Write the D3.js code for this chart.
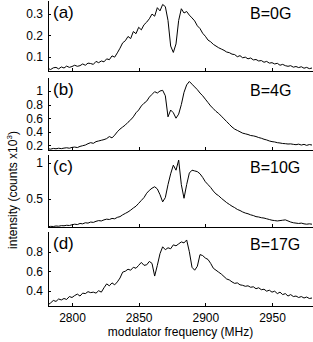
<!DOCTYPE html>
<html>
<head>
<meta charset="utf-8">
<script src="https://cdn.jsdelivr.net/npm/d3@7"></script>
<style>
  body { margin: 0; background: #fff; }
  svg { display: block; font-family: "Liberation Sans", Arial, Helvetica, sans-serif; }
  .axis path, .axis line { stroke: #000; shape-rendering: crispEdges; }
  .axis text { font-size: 12px; fill: #000; font-family: "Liberation Sans", Arial, sans-serif; }
  .line { fill: none; stroke: #000; stroke-width: 1; }
</style>
</head>
<body>
<svg width="313" height="342"></svg>
<script>
// modulator frequency grid (MHz)
var freqs = [2782, 2784, 2786, 2788, 2790, 2792, 2794, 2796, 2798, 2800,
    2802, 2804, 2806, 2808, 2810, 2812, 2814, 2816, 2818, 2820,
    2822, 2824, 2826, 2828, 2830, 2832, 2834, 2836, 2838, 2840,
    2842, 2844, 2846, 2848, 2850, 2852, 2854, 2856, 2858, 2860,
    2862, 2864, 2866, 2868, 2870, 2872, 2874, 2876, 2878, 2880,
    2882, 2884, 2886, 2888, 2890, 2892, 2894, 2896, 2898, 2900,
    2902, 2904, 2906, 2908, 2910, 2912, 2914, 2916, 2918, 2920,
    2922, 2924, 2926, 2928, 2930, 2932, 2934, 2936, 2938, 2940,
    2942, 2944, 2946, 2948, 2950, 2952, 2954, 2956, 2958, 2960,
    2962, 2964, 2966, 2968, 2970, 2972, 2974, 2976, 2978, 2980];

// intensity, counts x10^3
var intensityB0 = [0.045, 0.040, 0.048, 0.050, 0.043, 0.052, 0.047, 0.056, 0.050, 0.054,
    0.060, 0.055, 0.058, 0.066, 0.060, 0.070, 0.068, 0.064, 0.078, 0.072,
    0.080, 0.076, 0.090, 0.086, 0.104, 0.098, 0.118, 0.140, 0.165, 0.175,
    0.195, 0.185, 0.218, 0.208, 0.238, 0.226, 0.250, 0.262, 0.278, 0.300,
    0.290, 0.330, 0.315, 0.345, 0.335, 0.270, 0.150, 0.120, 0.160, 0.270,
    0.325, 0.305, 0.312, 0.295, 0.282, 0.268, 0.245, 0.232, 0.210, 0.196,
    0.178, 0.170, 0.158, 0.150, 0.142, 0.136, 0.130, 0.122, 0.119, 0.112,
    0.110, 0.100, 0.105, 0.095, 0.098, 0.090, 0.094, 0.085, 0.087, 0.080,
    0.082, 0.074, 0.078, 0.070, 0.072, 0.066, 0.069, 0.060, 0.064, 0.058,
    0.055, 0.058, 0.051, 0.054, 0.049, 0.053, 0.046, 0.050, 0.044, 0.047];

var intensityB4 = [0.150, 0.145, 0.155, 0.150, 0.158, 0.152, 0.160, 0.165, 0.158, 0.170,
    0.175, 0.168, 0.185, 0.195, 0.205, 0.225, 0.240, 0.230, 0.255, 0.265,
    0.275, 0.285, 0.300, 0.330, 0.310, 0.350, 0.400, 0.440, 0.470, 0.500,
    0.540, 0.575, 0.620, 0.680, 0.720, 0.780, 0.820, 0.850, 0.910, 0.950,
    0.990, 0.970, 1.000, 1.010, 0.930, 0.620, 0.720, 0.680, 0.600, 0.660,
    0.800, 0.980, 1.090, 1.140, 1.100, 1.060, 1.020, 0.970, 0.930, 0.880,
    0.830, 0.780, 0.740, 0.700, 0.670, 0.630, 0.590, 0.550, 0.510, 0.470,
    0.440, 0.420, 0.400, 0.380, 0.370, 0.360, 0.345, 0.340, 0.330, 0.315,
    0.305, 0.290, 0.280, 0.265, 0.255, 0.250, 0.240, 0.235, 0.228, 0.225,
    0.220, 0.222, 0.215, 0.210, 0.218, 0.205, 0.215, 0.200, 0.212, 0.205];

var intensityB10 = [0.115, 0.120, 0.118, 0.125, 0.122, 0.130, 0.128, 0.135, 0.132, 0.142,
    0.150, 0.145, 0.160, 0.155, 0.170, 0.165, 0.180, 0.175, 0.190, 0.200,
    0.195, 0.210, 0.220, 0.215, 0.230, 0.225, 0.245, 0.255, 0.280, 0.300,
    0.320, 0.345, 0.375, 0.400, 0.440, 0.480, 0.520, 0.580, 0.620, 0.650,
    0.670, 0.640, 0.560, 0.460, 0.520, 0.700, 0.850, 0.970, 0.900, 1.040,
    0.700, 0.510, 0.700, 0.860, 0.900, 0.890, 0.880, 0.850, 0.800, 0.740,
    0.700, 0.660, 0.610, 0.570, 0.545, 0.510, 0.480, 0.450, 0.425, 0.400,
    0.380, 0.355, 0.340, 0.320, 0.305, 0.295, 0.280, 0.270, 0.255, 0.250,
    0.240, 0.235, 0.225, 0.215, 0.205, 0.200, 0.195, 0.200, 0.205, 0.210,
    0.195, 0.180, 0.170, 0.165, 0.160, 0.165, 0.155, 0.150, 0.155, 0.150];

var intensityB17 = [0.255, 0.275, 0.300, 0.290, 0.315, 0.305, 0.320, 0.310, 0.340, 0.330,
    0.350, 0.365, 0.345, 0.375, 0.370, 0.390, 0.380, 0.385, 0.375, 0.400,
    0.385, 0.430, 0.470, 0.450, 0.480, 0.460, 0.490, 0.530, 0.590, 0.600,
    0.620, 0.610, 0.640, 0.630, 0.660, 0.690, 0.660, 0.665, 0.700, 0.680,
    0.550, 0.660, 0.780, 0.850, 0.820, 0.840, 0.830, 0.870, 0.860, 0.880,
    0.900, 0.890, 0.920, 0.800, 0.640, 0.610, 0.650, 0.770, 0.760, 0.735,
    0.720, 0.680, 0.630, 0.610, 0.590, 0.570, 0.545, 0.520, 0.510, 0.490,
    0.475, 0.480, 0.460, 0.455, 0.445, 0.450, 0.435, 0.440, 0.420, 0.430,
    0.410, 0.415, 0.395, 0.405, 0.385, 0.395, 0.370, 0.385, 0.360, 0.370,
    0.345, 0.360, 0.340, 0.345, 0.330, 0.340, 0.325, 0.335, 0.320, 0.325];

var panelTags = ["(a)", "(b)", "(c)", "(d)"];
var fieldLabels = ["B=0G", "B=4G", "B=10G", "B=17G"];
var yTickValues = [[0.1, 0.2, 0.3], [0.2, 0.4, 0.6, 0.8, 1], [0.5, 1], [0.4, 0.6, 0.8]];
var xTickValues = [2800, 2850, 2900, 2950];

(function() {

    "use strict";

    var series = [intensityB0, intensityB4, intensityB10, intensityB17];

    // panel layout (pixels) and y ranges shown
    var left = 48, right = 313;
    var tops = [0, 77, 154, 231];
    var bottoms = [71, 150, 227, 306];
    var yDomains = [[0.033, 0.366], [0.132, 1.206], [0.111, 1.125], [0.243, 1.012]];

    var svg = d3.select("svg");

    var x = d3.scaleLinear()
        .domain([2782, 2980.75])
        .range([left, right]);

    series.forEach(function(values, i) {

        var y = d3.scaleLinear()
            .domain(yDomains[i])
            .range([bottoms[i], tops[i]]);

        var g = svg.append("g").attr("class", "panel");

        var xAxis = d3.axisBottom(x)
            .tickValues(xTickValues)
            .tickSizeInner(-3)
            .tickSizeOuter(0)
            .tickPadding(7)
            .tickFormat(d3.format("d"));
        if (i < series.length - 1) {
            xAxis.tickFormat("");
        }

        g.append("g")
            .attr("class", "axis axis--x")
            .attr("transform", "translate(0," + bottoms[i] + ")")
            .call(xAxis);

        g.append("g")
            .attr("class", "axis axis--y")
            .attr("transform", "translate(" + left + ",0)")
            .call(d3.axisLeft(y)
                .tickValues(yTickValues[i])
                .tickSizeInner(-3)
                .tickSizeOuter(0)
                .tickPadding(5)
                .tickFormat(function(d) { return String(d); }));

        g.append("path")
            .datum(values)
            .attr("class", "line")
            .attr("d", d3.line()
                .x(function(d, j) { return x(freqs[j]); })
                .y(function(d) { return y(d); }));

        g.append("text")
            .attr("x", 53)
            .attr("y", tops[i] + 18)
            .style("font-size", "17px")
            .text(panelTags[i]);

        g.append("text")
            .attr("x", 250)
            .attr("y", tops[i] + 19)
            .style("font-size", "16px")
            .text(fieldLabels[i]);
    });

    svg.append("text")
        .attr("x", (left + right) / 2)
        .attr("y", 336)
        .attr("text-anchor", "middle")
        .style("font-size", "12px")
        .text("modulator frequency (MHz)");

    var ylab = svg.append("text")
        .attr("transform", "translate(17,190) rotate(-90)")
        .attr("text-anchor", "middle")
        .style("font-size", "12px");
    ylab.append("tspan").text("intensity (counts x10");
    ylab.append("tspan").attr("dy", -5).style("font-size", "8px").text("3");
    ylab.append("tspan").attr("dy", 5).text(")");

}());
</script>
</body>
</html>
